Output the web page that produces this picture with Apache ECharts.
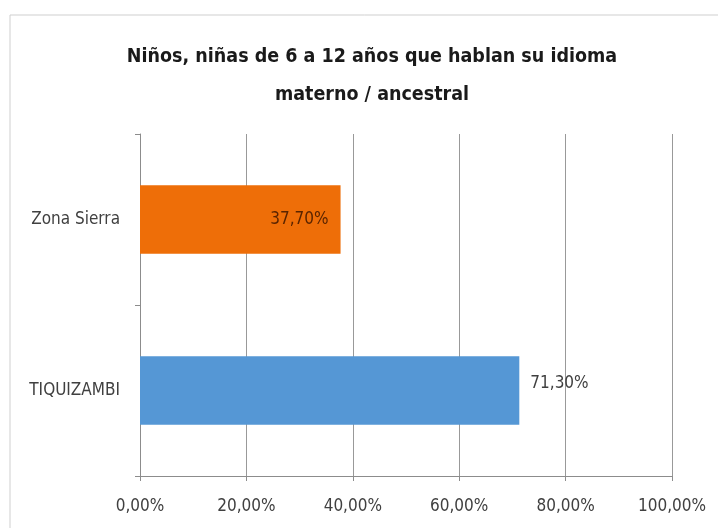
<!DOCTYPE html>
<html>
<head>
<meta charset="utf-8">
<script src="https://cdn.jsdelivr.net/npm/echarts@6/dist/echarts.min.js"></script>
<style>
  html, body { margin: 0; padding: 0; background: #fff; }
  #chart { width: 718px; height: 528px; }
</style>
</head>
<body>
<div id="chart"></div>
<script>
// data
const categories = ["TIQUIZAMBI", "Zona Sierra"];
const percentValues = [71.3, 37.7];
const xTicks = [0, 20, 40, 60, 80, 100];

const font = "'Liberation Sans Narrow', 'DejaVu Sans Condensed', 'Open Sans', sans-serif";
const barColors = ["#5597d5", "#ee6e08"];
const labelSpots = ["right", "insideRight"];

const fmt = (v) => v.toFixed(2).replace(".", ",") + "%";

const chart = echarts.init(document.getElementById("chart"));

chart.setOption({
  animation: false,
  backgroundColor: "#fff",
  graphic: [
    {
      type: "rect",
      shape: { x: 10, y: 15, width: 720, height: 530 },
      style: { fill: "none", stroke: "#cfcfcf", lineWidth: 1 },
      silent: true,
    },
  ],
  title: {
    text: "Niños, niñas de 6 a 12 años que hablan su idioma\nmaterno / ancestral",
    left: 367,
    textAlign: "center",
    top: 33,
    textStyle: {
      fontFamily: font,
      fontSize: 19.5,
      fontWeight: "bold",
      color: "#1a1a1a",
      lineHeight: 38,
    },
  },
  grid: { left: 140, right: 46, top: 134, bottom: 52 },
  xAxis: {
    type: "value",
    min: xTicks[0],
    max: xTicks[xTicks.length - 1],
    interval: xTicks[1] - xTicks[0],
    axisLine: { show: true, lineStyle: { color: "#8c8c8c" } },
    axisTick: { show: true, length: 5, lineStyle: { color: "#8c8c8c" } },
    splitLine: { show: true, lineStyle: { color: "#999" } },
    axisLabel: {
      formatter: fmt,
      margin: 22,
      fontFamily: font,
      fontSize: 17,
      color: "#404040",
    },
  },
  yAxis: {
    type: "category",
    data: categories,
    axisLine: { show: true, lineStyle: { color: "#8c8c8c" } },
    axisTick: { show: true, length: 5, lineStyle: { color: "#8c8c8c" } },
    axisLabel: {
      margin: 20,
      fontFamily: font,
      fontSize: 17,
      color: "#404040",
    },
  },
  series: [
    {
      type: "bar",
      barWidth: "40%",
      data: percentValues.map((v, i) => ({
        value: v,
        itemStyle: { color: barColors[i] },
        label: {
          show: true,
          position: labelSpots[i],
          distance: i === 0 ? 11 : 12,
          offset: i === 0 ? [0, -7] : [0, 0],
          formatter: (p) => fmt(p.value),
          fontFamily: font,
          fontSize: 17,
          color: i === 0 ? "#404040" : "#5a2400",
        },
      })),
    },
  ],
});
</script>
</body>
</html>
